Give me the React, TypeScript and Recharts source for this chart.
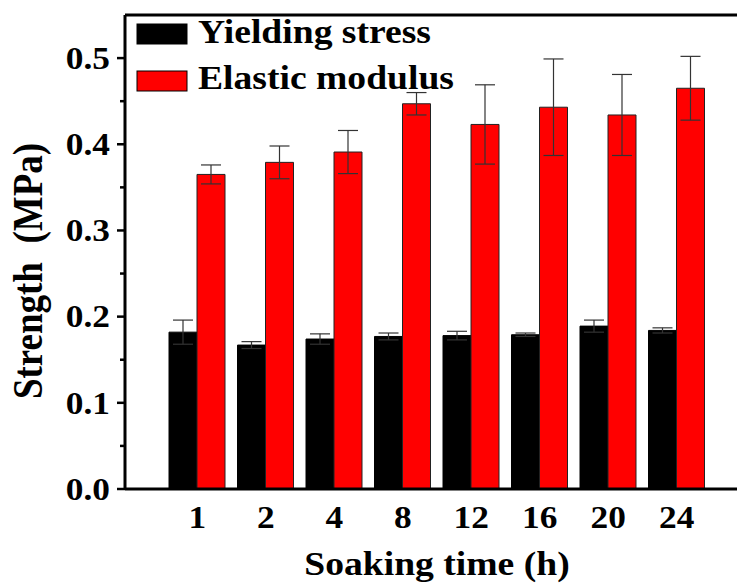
import React from 'react';
import { BarChart, Bar, XAxis, YAxis, ErrorBar, Legend, ReferenceLine, Label } from 'recharts';

const soakTimes = ['1', '2', '4', '8', '12', '16', '20', '24'];
const yieldStress = [0.182, 0.167, 0.174, 0.177, 0.178, 0.179, 0.189, 0.184];
const yieldErr = [0.014, 0.004, 0.006, 0.004, 0.005, 0.002, 0.007, 0.003];
const elasticModulus = [0.365, 0.379, 0.391, 0.447, 0.423, 0.443, 0.434, 0.465];
const elasticErr = [0.011, 0.019, 0.025, 0.013, 0.046, 0.056, 0.047, 0.037];
const yTicks = [0, 0.05, 0.1, 0.15, 0.2, 0.25, 0.3, 0.35, 0.4, 0.45, 0.5];

const data = soakTimes.map((t, i) => ({
  time: t,
  ys: yieldStress[i],
  ysErr: yieldErr[i],
  em: elasticModulus[i],
  emErr: elasticErr[i],
}));

const FONT = 'Liberation Serif';
const SX = 1.14; // source figure is stretched sideways
const txt = { fontFamily: FONT, fontWeight: 700 } as const;

const YTick = (props: any) => {
  const { x, y, payload } = props;
  const v = payload.value;
  const major = Math.abs(v * 10 - Math.round(v * 10)) < 1e-6;
  return (
    <g>
      <line x1={x - (major ? 8 : 5)} x2={x} y1={y} y2={y} stroke="#000" strokeWidth={2.5} />
      {major && (
        <text
          transform={`translate(${x - 15},${y}) scale(${SX},1)`}
          textAnchor="end"
          dy="0.35em"
          style={txt}
          fontSize={31}
          fill="#000"
        >
          {v.toFixed(1)}
        </text>
      )}
    </g>
  );
};

const XTick = (props: any) => {
  const { x, y, payload } = props;
  return (
    <text
      transform={`translate(${x},${y + 39}) scale(${SX},1)`}
      textAnchor="middle"
      style={txt}
      fontSize={31}
      fill="#000"
    >
      {payload.value}
    </text>
  );
};

const legendItems = [
  { name: 'Yielding stress', color: '#000' },
  { name: 'Elastic modulus', color: '#ff0000' },
];

const LegendBox = () => (
  <svg width={500} height={100}>
    {legendItems.map((it, i) => (
      <g key={it.name}>
        <rect x={137} y={24 + i * 47} width={50} height={20} fill={it.color} stroke="#000" strokeWidth={1} />
        <text
          transform={`translate(198,${43 + i * 46}) scale(${SX},1)`}
          style={txt}
          fontSize={33}
          fill="#000"
        >
          {it.name}
        </text>
      </g>
    ))}
  </svg>
);

export default function App() {
  return (
    <div style={{ position: 'absolute', left: 0, top: 0, width: 737, height: 583, background: '#fff' }}>
      <BarChart
        width={737}
        height={583}
        data={data}
        margin={{ top: 15, right: 0, bottom: 44, left: 0 }}
        barSize={28}
        barGap={0}
      >
        <ReferenceLine y={0.55} stroke="#000" strokeWidth={3} ifOverflow="extendDomain" />
        <XAxis
          dataKey="time"
          height={50}
          axisLine={{ stroke: '#000', strokeWidth: 3 }}
          tickLine={false}
          tickSize={0}
          tickMargin={0}
          tick={<XTick />}
          interval={0}
          padding={{ left: 38, right: 26 }}
        >
          <Label
            content={(p: any) => {
              const vb = p.viewBox;
              return (
                <text
                  transform={`translate(${vb.x + 312},${vb.y + 86}) scale(${SX},1)`}
                  textAnchor="middle"
                  style={txt}
                  fontSize={33}
                  fill="#000"
                >
                  Soaking time (h)
                </text>
              );
            }}
          />
        </XAxis>
        <YAxis
          width={125}
          domain={[0, 0.55]}
          ticks={yTicks}
          interval={0}
          axisLine={{ stroke: '#000', strokeWidth: 3 }}
          tickLine={false}
          tickSize={0}
          tickMargin={0}
          tick={<YTick />}
        >
          <Label
            content={(p: any) => {
              const vb = p.viewBox;
              return (
                <text
                  transform={`translate(${vb.x + 42},${vb.y + vb.height / 2 + 19}) scale(${SX},1) rotate(-90)`}
                  textAnchor="middle"
                  style={txt}
                  fontSize={37}
                  fill="#000"
                >
                  {'Strength\u00a0\u00a0(MPa)'}
                </text>
              );
            }}
          />
        </YAxis>
        <Legend
          layout="vertical"
          align="center"
          verticalAlign="middle"
          content={() => <LegendBox />}
          wrapperStyle={{ position: 'absolute', left: 0, top: 0, width: 500, height: 100 }}
        />
        <Bar dataKey="ys" name="Yielding stress" fill="#000" stroke="#000" strokeWidth={1} isAnimationActive={false}>
          <ErrorBar dataKey="ysErr" direction="y" width={10} stroke="#333" strokeWidth={1.2} />
        </Bar>
        <Bar dataKey="em" name="Elastic modulus" fill="#ff0000" stroke="#222" strokeWidth={1} isAnimationActive={false}>
          <ErrorBar dataKey="emErr" direction="y" width={10} stroke="#333" strokeWidth={1.2} />
        </Bar>
      </BarChart>
    </div>
  );
}
